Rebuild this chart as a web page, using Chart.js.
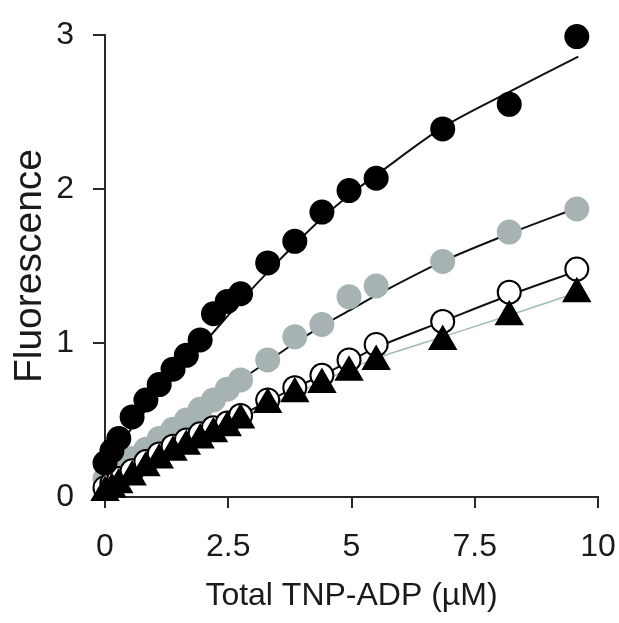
<!DOCTYPE html>
<html>
<head>
<meta charset="utf-8">
<script src="https://cdn.jsdelivr.net/npm/chart.js@4.4.0/dist/chart.umd.min.js"></script>
<style>
  html, body { margin: 0; padding: 0; background: #fff; }
  #chart { display: block; }
</style>
</head>
<body>
<canvas id="chart" width="619" height="623"></canvas>
<script>
// titration points (µM)
const conc = [0, 0.14, 0.28, 0.55, 0.83, 1.1, 1.38, 1.65, 1.93, 2.2, 2.48, 2.75, 3.3, 3.85, 4.4, 4.95, 5.5, 6.85, 8.2, 9.57];
const blackY = [0.22, 0.30, 0.38, 0.52, 0.63, 0.73, 0.83, 0.92, 1.02, 1.19, 1.27, 1.32, 1.52, 1.66, 1.85, 1.99, 2.07, 2.39, 2.55, 2.99];
const grayY  = [0.12, 0.15, 0.19, 0.25, 0.31, 0.38, 0.44, 0.50, 0.57, 0.63, 0.70, 0.76, 0.89, 1.04, 1.12, 1.30, 1.37, 1.53, 1.72, 1.87];
const openY  = [0.06, 0.09, 0.12, 0.17, 0.23, 0.28, 0.33, 0.37, 0.41, 0.45, 0.48, 0.53, 0.63, 0.71, 0.79, 0.89, 0.99, 1.14, 1.33, 1.48];
const triY   = [0.03, 0.05, 0.08, 0.13, 0.19, 0.24, 0.29, 0.33, 0.37, 0.41, 0.45, 0.50, 0.60, 0.67, 0.73, 0.81, 0.88, 1.01, 1.17, 1.32];

// fitted curves
const fitX     = [0, 0.55, 1.1, 1.65, 2.2, 2.75, 3.3, 3.85, 4.4, 4.95, 5.5, 6.85, 8.2, 9.6];
const blackFit = [0.20, 0.45, 0.67, 0.87, 1.07, 1.27, 1.46, 1.64, 1.81, 1.96, 2.09, 2.40, 2.63, 2.86];
const grayFit  = [0.11, 0.25, 0.38, 0.51, 0.64, 0.76, 0.88, 1.00, 1.11, 1.21, 1.31, 1.53, 1.71, 1.88];
const openFit  = [0.05, 0.16, 0.27, 0.37, 0.45, 0.53, 0.62, 0.71, 0.79, 0.88, 0.97, 1.14, 1.31, 1.47];
const triFit   = [0.02, 0.12, 0.23, 0.33, 0.41, 0.50, 0.59, 0.67, 0.75, 0.83, 0.90, 1.04, 1.18, 1.33];

const xTicks = [0, 2.5, 5, 7.5, 10];
const yTicks = [0, 1, 2, 3];

const GRAY = '#a7b3b3';
const AXIS = '#2a2a2a';
const TEXT = '#1a1a1a';
const FONT = "'Liberation Sans', Arial, sans-serif";

function pts(xs, ys) {
    return xs.map((x, i) => ({ x: x, y: ys[i] }));
}

function points(data, style, radius, bg, border, order) {
    return {
        data: data, showLine: false, pointStyle: style, pointRadius: radius,
        pointHoverRadius: radius, backgroundColor: bg, borderColor: border,
        pointBorderWidth: 2, order: order, clip: false
    };
}

function fit(data, color, width, order) {
    return {
        data: data, showLine: true, pointRadius: 0, borderColor: color,
        borderWidth: width, tension: 0.3, order: order, clip: false
    };
}

new Chart(document.getElementById('chart'), {
    type: 'scatter',
    data: {
        datasets: [
            points(pts(conc, blackY), 'circle', 11.5, '#000', '#000', 1),
            points(pts(conc, triY), 'triangle', 15, '#000', '#000', 2),
            points(pts(conc, openY), 'circle', 11.5, '#fff', '#000', 3),
            points(pts(conc, grayY), 'circle', 11.5, GRAY, GRAY, 4),
            fit(pts(fitX, blackFit), '#111', 2, 5),
            fit(pts(fitX, grayFit), '#111', 2, 6),
            fit(pts(fitX, openFit), '#111', 2, 7),
            fit(pts(fitX, triFit), '#9fb9b9', 1.5, 8)
        ]
    },
    options: {
        responsive: false,
        animation: false,
        events: [],
        layout: { padding: { top: 35, right: 21, left: 0, bottom: 0 } },
        plugins: { legend: { display: false }, tooltip: { enabled: false } },
        scales: {
            x: {
                type: 'linear', min: 0, max: 10,
                afterFit: s => { s.height = 126; s.paddingLeft = 0; s.paddingRight = 0; },
                afterBuildTicks: s => { s.ticks = xTicks.map(v => ({ value: v })); },
                border: { display: true, color: AXIS, width: 2 },
                grid: { drawOnChartArea: false, drawTicks: true, tickLength: 11, color: AXIS, lineWidth: 2 },
                ticks: { color: TEXT, font: { family: FONT, size: 32 }, padding: 20, maxRotation: 0 },
                title: { display: true, text: 'Total TNP-ADP (µM)', color: TEXT,
                         font: { family: FONT, size: 32 }, padding: { top: 0, bottom: 8 } }
            },
            y: {
                type: 'linear', min: 0, max: 3,
                afterFit: s => { s.width = 105; s.paddingTop = 0; s.paddingBottom = 0; },
                afterBuildTicks: s => { s.ticks = yTicks.map(v => ({ value: v })); },
                border: { display: true, color: AXIS, width: 2 },
                grid: { drawOnChartArea: false, drawTicks: true, tickLength: 12, color: AXIS, lineWidth: 2 },
                ticks: { color: TEXT, font: { family: FONT, size: 32 }, padding: 19 },
                title: { display: true, text: 'Fluorescence', color: TEXT,
                         font: { family: FONT, size: 39 }, padding: { top: 7, bottom: 0 } }
            }
        }
    }
});
</script>
</body>
</html>
